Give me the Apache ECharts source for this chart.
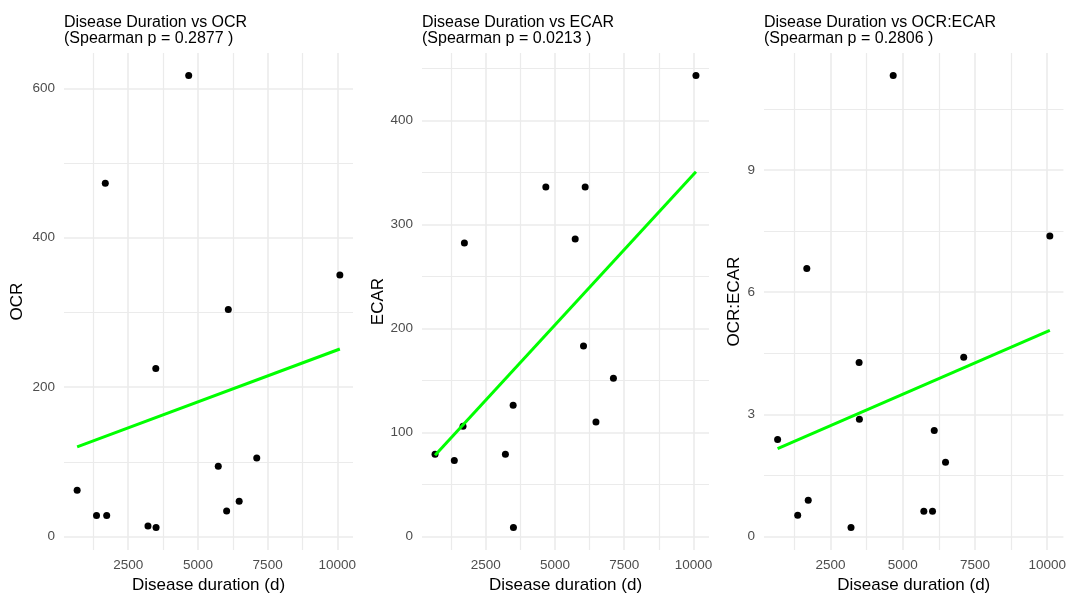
<!DOCTYPE html>
<html>
<head>
<meta charset="utf-8">
<script src="https://cdn.jsdelivr.net/npm/echarts@6/dist/echarts.min.js"></script>
<style>
  html, body { margin: 0; padding: 0; background: #ffffff; }
  #chart { width: 1069px; height: 599px; }
</style>
</head>
<body>
<div id="chart"></div>
<script>
// Disease duration (days) per subject, shared by the three panels
const durationDays = [670, 1365, 1680, 1730, 3210, 3490, 3500, 4670, 5730, 6030, 6090, 6480, 7110, 10090];
const ocrValues    = [62, 28, 473, 28, 14, 225, 12, 617, 94, 34, 304, 47, 105, 350];
const ecarValues   = [79, 73, 106, 282, 79, 126, 8.6, 336, 286, 183, 336, 110, 152, 443];
const ratioValues  = [2.38, 0.52, 6.58, 0.89, 0.22, 4.27, 2.88, 11.32, 0.62, 0.62, 2.60, 1.82, 4.40, 7.38];

// Linear fit end points [duration, value] for each panel
const ocrFit   = [[670, 120], [10090, 251]];
const ecarFit  = [[670, 78], [10090, 350.5]];
const ratioFit = [[670, 2.16], [10090, 5.06]];

const panelTitles = ['Disease Duration vs OCR', 'Disease Duration vs ECAR', 'Disease Duration vs OCR:ECAR'];
const spearmanP   = ['0.2877', '0.0213', '0.2806'];
const yNames      = ['OCR', 'ECAR', 'OCR:ECAR'];
const xName       = 'Disease duration (d)';

// Tick values
const xMajorTicks     = [2500, 5000, 7500, 10000];
const xMinorTicks     = [1250, 3750, 6250, 8750];
const ocrMajorTicks   = [0, 200, 400, 600];
const ocrMinorTicks   = [100, 300, 500];
const ecarMajorTicks  = [0, 100, 200, 300, 400];
const ecarMinorTicks  = [50, 150, 250, 350, 450];
const ratioMajorTicks = [0, 3, 6, 9];
const ratioMinorTicks = [1.5, 4.5, 7.5, 10.5];

const FONT = '"Liberation Sans", Arial, Helvetica, sans-serif';
const GRID_COLOR = '#EBEBEB';
const plainNumber = v => String(v);

// ggplot-style 5% expansion of the data range
function expand(values) {
  const lo = Math.min(...values), hi = Math.max(...values);
  const pad = (hi - lo) * 0.05;
  return [lo - pad, hi + pad];
}

const panels = [
  { values: ocrValues,   fit: ocrFit,   major: ocrMajorTicks,   minor: ocrMinorTicks,   grid: { left: 64,  width: 289 }, nameGap: 38 },
  { values: ecarValues,  fit: ecarFit,  major: ecarMajorTicks,  minor: ecarMinorTicks,  grid: { left: 422, width: 287 }, nameGap: 35 },
  { values: ratioValues, fit: ratioFit, major: ratioMajorTicks, minor: ratioMinorTicks, grid: { left: 764, width: 302 }, nameGap: 21 }
];

const xRange = expand(durationDays);
const grids = [], xAxes = [], yAxes = [], series = [], titles = [];

panels.forEach((p, i) => {
  grids.push({ left: p.grid.left, width: p.grid.width, top: 53, height: 499.6, containLabel: false });
  const yRange = expand(p.values);

  titles.push({
    text: panelTitles[i] + '\n(Spearman p = ' + spearmanP[i] + ' )',
    left: p.grid.left,
    top: 14,
    padding: 0,
    textStyle: { fontFamily: FONT, fontSize: 16, lineHeight: 16.5, fontWeight: 'normal', color: '#000000' }
  });

  // major grid + labels
  xAxes.push({
    type: 'value', gridIndex: i, min: xRange[0], max: xRange[1],
    axisLine: { show: false, onZero: false },
    axisTick: { show: false, customValues: xMajorTicks },
    axisLabel: { customValues: xMajorTicks, formatter: plainNumber, margin: 8, color: '#4D4D4D', fontSize: 13.5, fontFamily: FONT },
    splitLine: { show: true, lineStyle: { color: GRID_COLOR, width: 1.6 } },
    name: xName, nameLocation: 'middle', nameGap: 17,
    nameTextStyle: { fontFamily: FONT, fontSize: 17, color: '#000000' }
  });
  // minor grid
  xAxes.push({
    type: 'value', gridIndex: i, min: xRange[0], max: xRange[1], position: 'bottom',
    axisLine: { show: false, onZero: false },
    axisTick: { show: false, customValues: xMinorTicks },
    axisLabel: { show: false },
    splitLine: { show: true, lineStyle: { color: GRID_COLOR, width: 1.2 } }
  });

  yAxes.push({
    type: 'value', gridIndex: i, min: yRange[0], max: yRange[1],
    axisLine: { show: false, onZero: false },
    axisTick: { show: false, customValues: p.major },
    axisLabel: { customValues: p.major, formatter: plainNumber, margin: 9, color: '#4D4D4D', fontSize: 13.5, fontFamily: FONT },
    splitLine: { show: true, lineStyle: { color: GRID_COLOR, width: 1.6 } },
    name: yNames[i], nameLocation: 'middle', nameGap: p.nameGap,
    nameTextStyle: { fontFamily: FONT, fontSize: 17, color: '#000000' }
  });
  yAxes.push({
    type: 'value', gridIndex: i, min: yRange[0], max: yRange[1], position: 'left',
    axisLine: { show: false, onZero: false },
    axisTick: { show: false, customValues: p.minor },
    axisLabel: { show: false },
    splitLine: { show: true, lineStyle: { color: GRID_COLOR, width: 1.2 } }
  });

  series.push({
    type: 'scatter', xAxisIndex: 2 * i, yAxisIndex: 2 * i,
    data: durationDays.map((d, k) => [d, p.values[k]]),
    symbol: 'circle', symbolSize: 7,
    itemStyle: { color: '#000000', opacity: 1 },
    z: 3
  });
  series.push({
    type: 'line', xAxisIndex: 2 * i, yAxisIndex: 2 * i,
    data: p.fit, symbol: 'none',
    lineStyle: { color: '#00FF00', width: 3 },
    z: 4
  });
});

const chart = echarts.init(document.getElementById('chart'), null, { renderer: 'canvas' });
chart.setOption({
  backgroundColor: '#ffffff',
  animation: false,
  title: titles,
  grid: grids,
  xAxis: xAxes,
  yAxis: yAxes,
  series: series
});
</script>
</body>
</html>
